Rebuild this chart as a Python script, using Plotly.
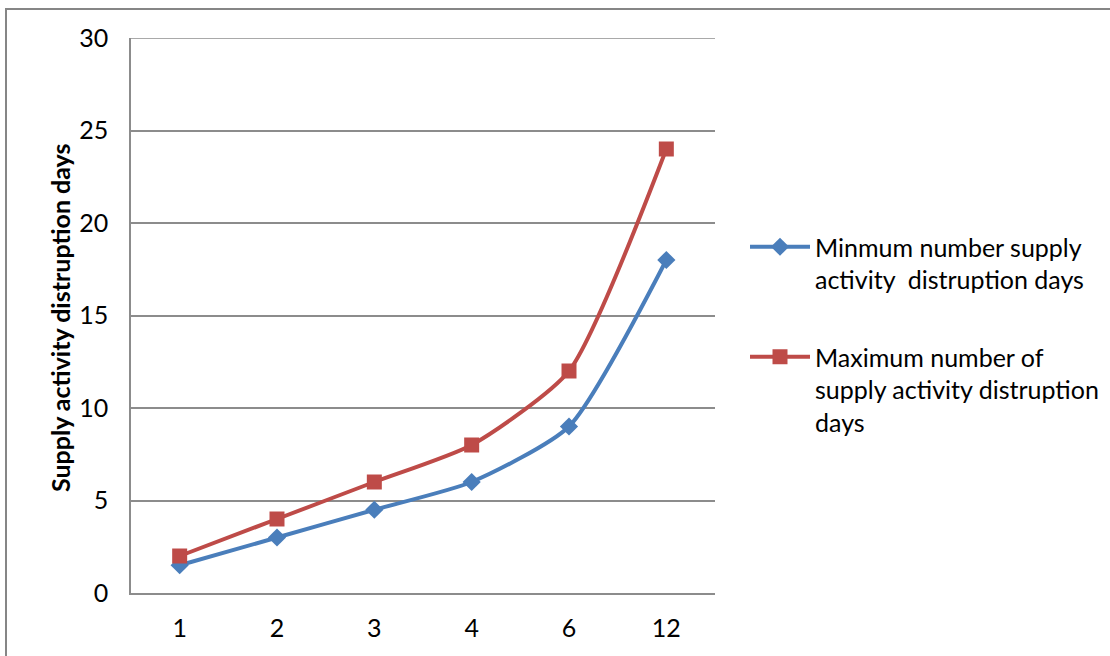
import plotly.graph_objects as go

# Category labels (months) and the two series of disruption days
categories = ["1", "2", "3", "4", "6", "12"]
min_days = [1.5, 3, 4.5, 6, 9, 18]
max_days = [2, 4, 6, 8, 12, 24]
y_ticks = [0, 5, 10, 15, 20, 25, 30]

W, H = 1110, 656
L, R, T, B = 131, 395, 38, 63
PW = W - L - R
PH = H - T - B

FONT = "Lato"
GRID = "#8c8c8c"

fig = go.Figure()
fig.add_trace(go.Scatter(
    x=categories, y=min_days, mode="lines+markers", legendgroup="min",
    name="Minmum number supply<br>activity  distruption days",
    line=dict(color="#4A7EBB", width=4, shape="spline", smoothing=0.6),
    marker=dict(symbol="diamond", size=14, color="#4A7EBB"),
))
fig.add_trace(go.Scatter(
    x=categories, y=max_days, mode="lines+markers", legendgroup="max",
    name="Maximum number of<br>supply activity distruption<br>days",
    line=dict(color="#BE4B48", width=4, shape="spline", smoothing=0.6),
    marker=dict(symbol="square", size=15, color="#BE4B48"),
))

def px_x(p):
    return (p - L) / PW

def px_y(p):
    return (H - B - p) / PH

# outer chart frame
fig.add_shape(type="rect", xref="paper", yref="paper",
              x0=px_x(6), x1=px_x(W + 10), y0=px_y(9), y1=px_y(H + 10),
              line=dict(color="#868686", width=2), fillcolor="rgba(0,0,0,0)",
              layer="below")

# top gridline at the upper end of the value axis
fig.add_shape(type="line", xref="paper", yref="y", x0=0, x1=1,
              y0=y_ticks[-1], y1=y_ticks[-1],
              line=dict(color=GRID, width=1.5), layer="below")

fig.add_annotation(text="<b>Supply activity distruption days</b>",
                   xref="paper", yref="paper", x=px_x(60), y=px_y(318),
                   xanchor="center", yanchor="middle", textangle=-90,
                   showarrow=False, font=dict(family=FONT, size=25, color="black"))

fig.update_layout(
    width=W, height=H,
    margin=dict(l=L, r=R, t=T, b=B, autoexpand=False),
    paper_bgcolor="white", plot_bgcolor="white",
    font=dict(family=FONT, size=25, color="black"),
    showlegend=True,
    legend=dict(x=px_x(745), y=px_y(224), xanchor="left", yanchor="top",
                font=dict(family=FONT, size=25, color="black"),
                tracegroupgap=42, itemwidth=60, valign="top",
                bgcolor="rgba(0,0,0,0)"),
    xaxis=dict(type="category", categoryorder="array", categoryarray=categories,
               range=[-0.5, len(categories) - 0.5],
               showgrid=False, showline=True, linecolor=GRID, linewidth=1.5,
               ticks="", ticklabelstandoff=12, tickfont=dict(size=25)),
    yaxis=dict(range=[0, 30], tickvals=y_ticks, showgrid=True, gridcolor=GRID,
               gridwidth=1.5, showline=True, linecolor=GRID, linewidth=1.5,
               zeroline=False, ticks="", ticklabelstandoff=16,
               tickfont=dict(size=25)),
)

fig.write_html("out.html")
